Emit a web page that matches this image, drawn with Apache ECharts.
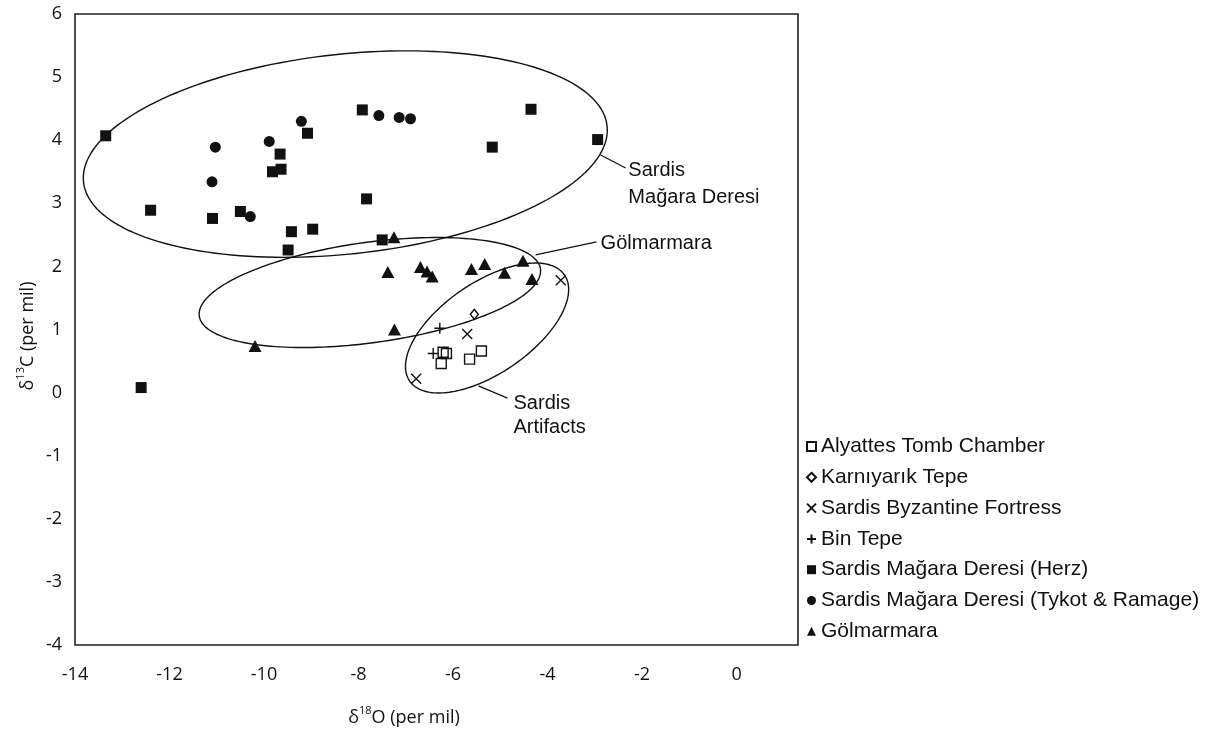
<!DOCTYPE html>
<html>
<head>
<meta charset="utf-8">
<script src="https://cdn.jsdelivr.net/npm/echarts@6/dist/echarts.min.js"></script>
<style>
  html, body { margin: 0; padding: 0; background: #fff; }
  #chart { width: 1216px; height: 730px; }
</style>
</head>
<body>
<div id="chart"></div>
<script>
// ---------- data ----------
const xTicks = [-14, -12, -10, -8, -6, -4, -2, 0];
const yTicks = [-4, -3, -2, -1, 0, 1, 2, 3, 4, 5, 6];

const alyattes = [[-6.21, 0.64], [-6.14, 0.62], [-6.25, 0.46], [-5.65, 0.53], [-5.40, 0.66]];
const karniyarik = [[-5.55, 1.24]];
const byzantine = [[-3.72, 1.78], [-5.70, 0.93], [-6.78, 0.22]];
const binTepe = [[-6.28, 1.02], [-6.42, 0.62]];
const herz = [[-13.35, 4.07], [-12.40, 2.89], [-11.09, 2.76], [-10.50, 2.87], [-9.82, 3.50],
              [-9.64, 3.54], [-9.66, 3.78], [-9.42, 2.55], [-9.49, 2.26], [-8.97, 2.59],
              [-9.08, 4.11], [-7.92, 4.48], [-7.83, 3.07], [-7.50, 2.42], [-4.35, 4.49],
              [-5.17, 3.89], [-2.94, 4.01], [-12.60, 0.08]];
const tykot = [[-11.03, 3.89], [-11.10, 3.34], [-10.29, 2.79], [-9.89, 3.98], [-9.21, 4.30],
               [-7.57, 4.39], [-7.14, 4.36], [-6.90, 4.34]];
const golmarmara = [[-10.19, 0.74], [-7.25, 2.46], [-7.38, 1.91], [-7.24, 1.00], [-6.69, 1.99],
                    [-6.55, 1.92], [-6.44, 1.84], [-5.61, 1.96], [-5.33, 2.04], [-4.91, 1.90],
                    [-4.52, 2.09], [-4.33, 1.80]];

const seriesNames = ['Alyattes Tomb Chamber', 'Karnıyarık Tepe', 'Sardis Byzantine Fortress', 'Bin Tepe',
                     'Sardis Mağara Deresi (Herz)', 'Sardis Mağara Deresi (Tykot & Ramage)', 'Gölmarmara'];

// group envelopes: centre (x, y) and two conjugate semi-axis vectors, in data units
const envelopes = [
  [-8.28, 3.78, 5.540, 0.444, 0.225, -1.575],
  [-7.76, 1.586, 3.610, 0.373, 0.146, -0.788],
  [-5.28, 1.024, 1.638, 0.841, 0.546, -0.594]
];
// annotation leader lines (x1, y1, x2, y2) and text anchor (x, y), data units
const annotations = [
  [-2.877, 3.765, -2.347, 3.56, -2.29, 3.314],
  [-4.254, 2.181, -2.962, 2.387, -2.877, 2.371],
  [-5.462, 0.105, -4.847, -0.086, -4.72, -0.355]
];
const annotationTexts = ['Sardis\nMağara Deresi', 'Gölmarmara', 'Sardis\nArtifacts'];
const annotationLineHeights = [27, 24, 24];

// ---------- chart ----------
const chart = echarts.init(document.getElementById('chart'), null, { renderer: 'canvas' });
const INK = '#111';
const xPath = 'path://M0,0L10,10M10,0L0,10';
const plusPath = 'path://M5,0L5,10M0,5L10,5';

function ellipseItem(params, api) {
  const cx = api.value(0), cy = api.value(1), ux = api.value(2), uy = api.value(3), vx = api.value(4), vy = api.value(5);
  const pts = [];
  const n = 180;
  for (let i = 0; i < n; i++) {
    const t = i / n * 2 * Math.PI;
    pts.push(api.coord([cx + ux * Math.cos(t) + vx * Math.sin(t), cy + uy * Math.cos(t) + vy * Math.sin(t)]));
  }
  return { type: 'polygon', shape: { points: pts }, style: { fill: 'none', stroke: INK, lineWidth: 1.4 } };
}

function annotationItem(params, api) {
  const p1 = api.coord([api.value(0), api.value(1)]);
  const p2 = api.coord([api.value(2), api.value(3)]);
  const pt = api.coord([api.value(4), api.value(5)]);
  return {
    type: 'group',
    children: [
      { type: 'line', shape: { x1: p1[0], y1: p1[1], x2: p2[0], y2: p2[1] }, style: { stroke: INK, lineWidth: 1.3 } },
      { type: 'text', x: pt[0], y: pt[1], style: {
          text: annotationTexts[params.dataIndex], fill: INK, font: '20px "Liberation Sans", Arial, sans-serif',
          lineHeight: annotationLineHeights[params.dataIndex], align: 'left', verticalAlign: 'middle' } }
    ]
  };
}

function scatter(name, data, symbol, size, filled, extra) {
  return Object.assign({
    name: name, type: 'scatter', data: data, symbol: symbol, symbolSize: size, z: 5,
    itemStyle: filled ? { color: INK, opacity: 1 } : { color: 'rgba(255,255,255,0)', borderColor: INK, borderWidth: 1.4, opacity: 1 },
    emphasis: { disabled: true }
  }, extra || {});
}

const option = {
  animation: false,
  backgroundColor: '#fff',
  grid: { left: 75, top: 14, right: 418, bottom: 85, show: true, borderColor: '#222', borderWidth: 1.6, backgroundColor: 'transparent' },
  xAxis: {
    type: 'value', min: xTicks[0], max: 1.3, interval: 2,
    axisLine: { show: false, onZero: false }, axisTick: { show: false }, splitLine: { show: false },
    axisLabel: {
      margin: 21, color: INK, fontSize: 18, fontFamily: '"Open Sans", sans-serif', showMaxLabel: false,
      formatter: v => (xTicks.indexOf(v) >= 0 ? String(v) : '')
    }
  },
  yAxis: {
    type: 'value', min: yTicks[0], max: yTicks[yTicks.length - 1], interval: 1,
    axisLine: { show: false, onZero: false }, axisTick: { show: false }, splitLine: { show: false },
    axisLabel: { margin: 13, color: INK, fontSize: 18, fontFamily: '"Open Sans", sans-serif' }
  },
  legend: {
    orient: 'vertical', left: 801, top: 431, itemGap: 9.8, itemWidth: 9, itemHeight: 9,
    padding: 5,
    selectedMode: false,
    data: seriesNames,
    textStyle: { color: INK, fontSize: 21, lineHeight: 21, fontFamily: '"Liberation Sans", Arial, sans-serif' }
  },
  graphic: [
    { type: 'text', x: 404, y: 716, style: {
        text: '{m|δ}{s|18}{m|O (per mil)}', align: 'center', verticalAlign: 'middle',
        rich: { m: { fontSize: 18, fontFamily: '"Open Sans", sans-serif', fill: INK, verticalAlign: 'bottom', lineHeight: 22 },
                s: { fontSize: 11, fontFamily: '"Open Sans", sans-serif', fill: INK, verticalAlign: 'top', lineHeight: 22 } } } },
    { type: 'text', x: 26, y: 336, rotation: Math.PI / 2, style: {
        text: '{m|δ}{s|13}{m|C (per mil)}', align: 'center', verticalAlign: 'middle',
        rich: { m: { fontSize: 18, fontFamily: '"Open Sans", sans-serif', fill: INK, verticalAlign: 'bottom', lineHeight: 22 },
                s: { fontSize: 11, fontFamily: '"Open Sans", sans-serif', fill: INK, verticalAlign: 'top', lineHeight: 22 } } } }
  ],
  series: [
    { name: 'envelopes', type: 'custom', renderItem: ellipseItem, data: envelopes, z: 2, silent: true, clip: true,
      encode: { x: 0, y: 1 } },
    { name: 'annotations', type: 'custom', renderItem: annotationItem, data: annotations, z: 3, silent: true, clip: false,
      encode: { x: 0, y: 1 } },
    scatter(seriesNames[0], alyattes, 'rect', 10, false),
    scatter(seriesNames[1], karniyarik, 'diamond', [8, 10], false),
    scatter(seriesNames[2], byzantine, xPath, 10, false),
    scatter(seriesNames[3], binTepe, plusPath, 11, false),
    scatter(seriesNames[4], herz, 'rect', 11, true),
    scatter(seriesNames[5], tykot, 'circle', 11, true),
    scatter(seriesNames[6], golmarmara, 'triangle', [13, 12], true)
  ]
};
chart.setOption(option);
</script>
</body>
</html>
